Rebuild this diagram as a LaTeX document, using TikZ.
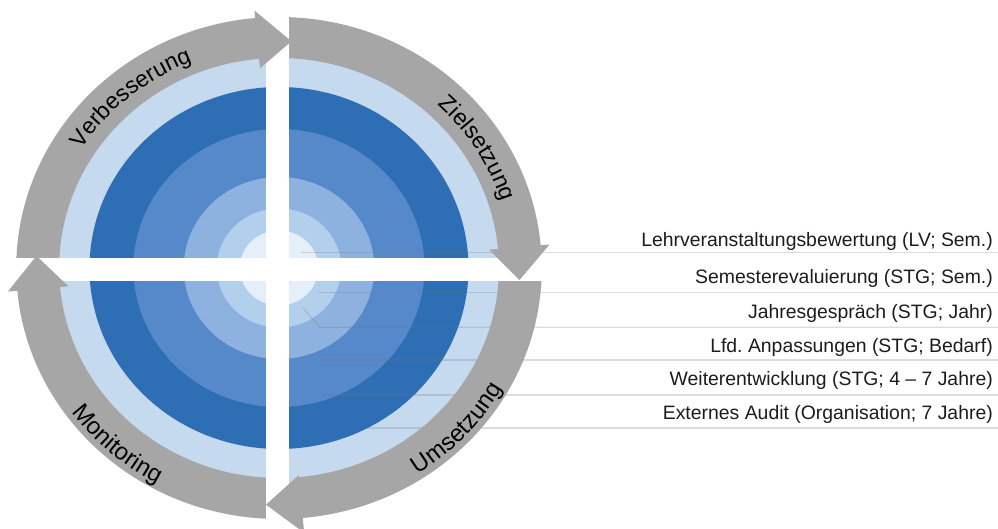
\documentclass[tikz,border=0pt]{standalone}
\usepackage{fontspec}
\setmainfont{Liberation Sans}
\usetikzlibrary{decorations.text}

\definecolor{ringgray}{HTML}{A6A6A6}
\definecolor{ringlight}{HTML}{C6DAEF}
\definecolor{bluedark}{HTML}{2E6EB5}
\definecolor{bluemid}{HTML}{5589C9}
\definecolor{bluesoft}{HTML}{8DB2DF}
\definecolor{bluepale}{HTML}{B2CFEC}
\definecolor{bluecore}{HTML}{E4EFF9}
\definecolor{labeltext}{HTML}{1C1C1C}

\newcommand\arclabelfont{\fontsize{23}{26}\selectfont}
\newcommand\arclabelfontlow{\fontsize{24}{27}\selectfont}

\tikzset{
  leader/.style={draw=black!55, draw opacity=0.25, line width=1.3pt},
  itemlabel/.style={anchor=base east, inner sep=0pt, text=labeltext,
                    font=\fontsize{19.4}{22}\selectfont},
  gapbar/.style={fill=white},
  arcbody/.style={fill=ringgray},
}

% ring arrow body between two angles, head from base angle to tip angle
\newcommand\ringarrowbody[2]{%
  \fill[arcbody] (#1:210) arc[start angle=#1, end angle=#2, radius=210]
    -- (#2:251) arc[start angle=#2, end angle=#1, radius=251] -- cycle;}
\newcommand\ringarrowhead[4]{%
  \fill[arcbody] (#1:{#3-29}) -- (#1:{#3+29}) -- (#2:#4) -- cycle;}

\begin{document}
\frenchspacing
\begin{tikzpicture}[x=1pt,y=1pt]
\useasboundingbox (0,0) rectangle (998,529);
\coordinate (C) at (279,261);
\coordinate (edge) at (998,0);

% concentric discs
\begin{scope}[shift={(C)}, xscale=1.047]
  \fill[ringlight] (0,0) circle (230);
  \fill[bluedark]  (0,0) circle (181);
  \fill[bluemid]   (0,0) circle (139);
  \fill[bluesoft]  (0,0) circle (91);
  \fill[bluepale]  (0,0) circle (59.5);
  \fill[bluecore]  (0,0) circle (37.5);
\end{scope}

% leader lines to the list on the right
\coordinate (p1) at (301,276.3);
\coordinate (p2) at (318,236.3);
\coordinate (p3a) at (303,221);
\coordinate (p3) at (320,201.7);
\coordinate (p4) at (322,169);
\coordinate (p5) at (322,134);
\coordinate (p6) at (365,101);
\draw[leader] (p1) -- (p1 -| edge);
\draw[leader] (p2) -- (p2 -| edge);
\draw[leader] (p3a) -- (p3) -- (p3 -| edge);
\draw[leader] (p4) -- (p4 -| edge);
\draw[leader] (p5) -- (p5 -| edge);
\draw[leader] (p6) -- (p6 -| edge);

% arrow bodies of the cycle
\begin{scope}[shift={(C)}, xscale=1.047]
  \ringarrowbody{180}{94.7}
  \ringarrowbody{90}{4.7}
  \ringarrowbody{0}{-85.3}
  \ringarrowbody{-90}{-175.3}
\end{scope}

% white cross separating the quadrants
\fill[gapbar] (266,0) rectangle (289,529);
\fill[gapbar] (0,248) rectangle (560,271);

% arrow heads on top of the cross
\begin{scope}[shift={(C)}, xscale=1.047]
  \ringarrowhead{95.2}{87}{229.5}{227}
  \ringarrowhead{5.2}{-3}{230.5}{230}
  \ringarrowhead{-84.8}{-93}{237}{237}
  \ringarrowhead{-174.8}{-183}{231}{232}
\end{scope}

% phase labels along the ring
\begin{scope}[shift={(C)}]
  \path[decorate, decoration={text along path, text align=center,
      text={|\arclabelfont|Verbesserung}}]
    (158:233 and 222.5) arc[start angle=158, end angle=102, x radius=233, y radius=222.5];
  \path[decorate, decoration={text along path, text align=center,
      text={|\arclabelfont|Zielsetzung}}]
    (60:233 and 222.5) arc[start angle=60, end angle=4, x radius=233, y radius=222.5];
  \path[decorate, decoration={text along path, text align=center,
      text={|\arclabelfontlow|Umsetzung}}]
    (-78:256.5 and 245) arc[start angle=-78, end angle=-8, x radius=256.5, y radius=245];
  \path[decorate, decoration={text along path, text align=center,
      text={|\arclabelfontlow|Monitoring}}]
    (-166.5:256.5 and 245) arc[start angle=-166.5, end angle=-96.5, x radius=256.5, y radius=245];
\end{scope}

% list of evaluation instruments
\node[itemlabel] (l1) at (993,282) {Lehrveranstaltungsbewertung (LV; Sem.)};
\node[itemlabel] (l2) at (993,245) {Semesterevaluierung (STG; Sem.)};
\node[itemlabel] (l3) at (993,210) {Jahresgespräch (STG; Jahr)};
\node[itemlabel] (l4) at (993,176) {Lfd. Anpassungen (STG; Bedarf)};
\node[itemlabel] (l5) at (993,143) {Weiterentwicklung (STG; 4 – 7 Jahre)};
\node[itemlabel] (l6) at (993,109) {Externes Audit (Organisation; 7 Jahre)};
\end{tikzpicture}
\end{document}
